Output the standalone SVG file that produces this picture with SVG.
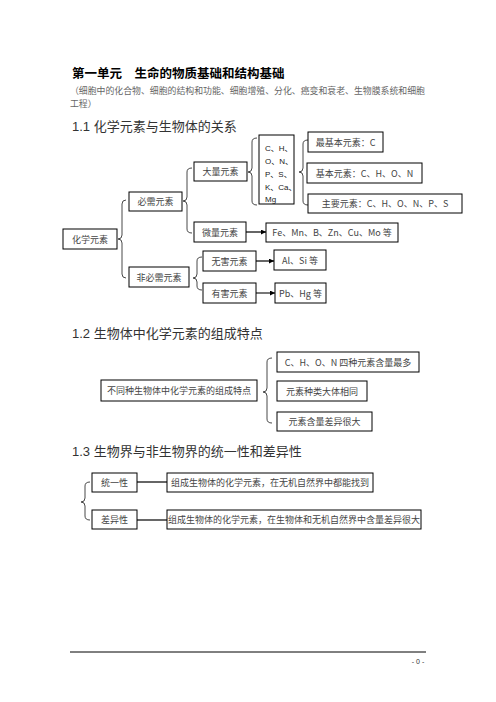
<svg xmlns="http://www.w3.org/2000/svg" width="496" height="702" viewBox="0 0 496 702">
<style>
.bx{fill:#fff;stroke:#000;stroke-width:1}
.t{font-family:"Noto Sans CJK SC","Liberation Sans",sans-serif;font-size:9px;fill:#444;text-anchor:middle}
.tl{font-family:"Liberation Sans","Noto Sans CJK SC",sans-serif;font-size:8px;fill:#222}
.br{fill:none;stroke:#333;stroke-width:0.9}
.ln{stroke:#000;stroke-width:1.2;fill:none}
.h{font-family:"Liberation Sans","Noto Sans CJK SC",sans-serif;font-size:13px;fill:#333}
</style>
<defs>
<marker id="ah" viewBox="0 0 10 10" refX="10" refY="5" markerWidth="5" markerHeight="5" orient="auto" markerUnits="userSpaceOnUse">
<path d="M0,0 L10,5 L0,10 z" fill="#000"/>
</marker>
</defs>
<rect width="496" height="702" fill="#fff"/>
<g id="headings">
<text x="72" y="78" font-family="'Noto Sans CJK SC',sans-serif" font-size="12.5" font-weight="bold" fill="#000">第一单元　生命的物质基础和结构基础</text>
<text x="70" y="94" font-family="'Noto Sans CJK SC',sans-serif" font-size="8.9" fill="#666">（细胞中的化合物、细胞的结构和功能、细胞增殖、分化、癌变和衰老、生物膜系统和细胞</text>
<text x="70" y="107" font-family="'Noto Sans CJK SC',sans-serif" font-size="8.9" fill="#666">工程）</text>
<text class="h" x="72" y="131">1.1 化学元素与生物体的关系</text>
<text class="h" x="72" y="338">1.2 生物体中化学元素的组成特点</text>
<text class="h" x="72" y="456">1.3 生物界与非生物界的统一性和差异性</text>
</g>
<g id="connectors">
<path class="br" d="M126,200 Q122,200 122,204 L122,235 Q122,239 118,239 Q122,239 122,243 L122,274 Q122,278 126,278"/>
<path class="br" d="M192,168 Q187,168 187,172 L187,197 Q187,201 183,201 Q187,201 187,205 L187,229 Q187,233 192,233"/>
<path class="br" d="M202,257 Q197,257 197,261 L197,274 Q197,278 193,278 Q197,278 197,282 L197,286 Q197,290 202,290"/>
<path class="br" d="M257,138 Q252,138 252,142 L252,168 Q252,172 248,172 Q252,172 252,176 L252,201 Q252,205 257,205"/>
<path class="br" d="M308,140 Q303,140 303,144 L303,168 Q303,172 299,172 Q303,172 303,176 L303,201 Q303,205 308,205"/>
<path class="br" d="M272,358 Q267,358 267,362 L267,388 Q267,392 263,392 Q267,392 267,396 L267,419 Q267,423 272,423"/>
<path class="br" d="M90,482 Q85,482 85,486 L85,498 Q85,502 81,502 Q85,502 85,506 L85,516 Q85,520 90,520"/>
<line class="ln" x1="246" y1="232" x2="266" y2="232" marker-end="url(#ah)"/>
<line class="ln" x1="256" y1="261" x2="274" y2="261" marker-end="url(#ah)"/>
<line x1="256" y1="293" x2="275" y2="293" stroke="#555" stroke-width="1.6" marker-end="url(#ah)"/>
<line class="ln" x1="137" y1="482" x2="167" y2="482"/>
<line class="ln" x1="137" y1="520" x2="167" y2="520"/>
</g>
<g id="n-huaxue"><rect class="bx" x="63" y="229" width="54" height="20"/><text class="t" x="90" y="242.5">化学元素</text></g>
<g id="n-bixu"><rect class="bx" x="129" y="192" width="53" height="19"/><text class="t" x="155.5" y="205">必需元素</text></g>
<g id="n-feibixu"><rect class="bx" x="129" y="267" width="60" height="20"/><text class="t" x="159" y="280.5">非必需元素</text></g>
<g id="n-daliang"><rect class="bx" x="194" y="162" width="53" height="19"/><text class="t" x="220.5" y="175">大量元素</text></g>
<g id="n-weiliang"><rect class="bx" x="194" y="222" width="52" height="20"/><text class="t" x="220" y="235.5">微量元素</text></g>
<g id="n-wuhai"><rect class="bx" x="203" y="251" width="53" height="20"/><text class="t" x="229.5" y="264.5">无害元素</text></g>
<g id="n-youhai"><rect class="bx" x="203" y="283" width="53" height="20"/><text class="t" x="229.5" y="296.5">有害元素</text></g>
<g id="n-chon"><rect class="bx" x="259" y="135" width="35" height="69"/>
<text class="tl" x="265" y="151">C、H、</text>
<text class="tl" x="265" y="164">O、N、</text>
<text class="tl" x="265" y="177">P、S、</text>
<text class="tl" x="265" y="190">K、Ca、</text>
<text class="tl" x="265" y="202">Mg</text></g>
<g id="n-zuijiben"><rect class="bx" x="308" y="132" width="75" height="20"/><text class="t" x="345.5" y="145.5">最基本元素：C</text></g>
<g id="n-jiben"><rect class="bx" x="307" y="163" width="115" height="20"/><text class="t" x="364.5" y="176.5">基本元素：C、H、O、N</text></g>
<g id="n-zhuyao"><rect class="bx" x="308" y="194" width="154" height="19"/><text class="t" x="385" y="207">主要元素：C、H、O、N、P、S</text></g>
<g id="n-fe"><rect class="bx" x="266" y="223" width="132" height="19"/><text class="t" x="332" y="236">Fe、Mn、B、Zn、Cu、Mo 等</text></g>
<g id="n-alsi"><rect class="bx" x="274" y="250" width="52" height="20"/><text class="t" x="300" y="263.5">Al、Si 等</text></g>
<g id="n-pbhg"><rect class="bx" x="275" y="283" width="51" height="20"/><text class="t" x="300.5" y="296.5">Pb、Hg 等</text></g>
<g id="n-tedian"><rect class="bx" x="101" y="380" width="156" height="21"/><text class="t" x="179" y="394">不同种生物体中化学元素的组成特点</text></g>
<g id="n-chon4"><rect class="bx" x="277" y="352" width="142" height="20"/><text class="t" x="348" y="365.5">C、H、O、N 四种元素含量最多</text></g>
<g id="n-zhonglei"><rect class="bx" x="277" y="381" width="90" height="20"/><text class="t" x="322" y="394.5">元素种类大体相同</text></g>
<g id="n-hanliang"><rect class="bx" x="277" y="412" width="95" height="19"/><text class="t" x="324.5" y="425">元素含量差异很大</text></g>
<g id="n-tongyi"><rect class="bx" x="92" y="473" width="45" height="19"/><text class="t" x="114.5" y="486">统一性</text></g>
<g id="n-chayi"><rect class="bx" x="92" y="510" width="45" height="19"/><text class="t" x="114.5" y="523">差异性</text></g>
<g id="n-tongyi-d"><rect class="bx" x="167" y="473" width="206" height="19"/><text class="t" x="270" y="486">组成生物体的化学元素，在无机自然界中都能找到</text></g>
<g id="n-chayi-d"><rect class="bx" x="167" y="510" width="254" height="19"/><text class="t" x="294" y="523">组成生物体的化学元素，在生物体和无机自然界中含量差异很大</text></g>
<g id="footer">
<line x1="70" y1="652" x2="426" y2="652" stroke="#000" stroke-width="1"/>
<text x="418" y="664" font-family="'Liberation Sans',sans-serif" font-size="7" fill="#333" text-anchor="middle">- 0 -</text>
</g>
</svg>
